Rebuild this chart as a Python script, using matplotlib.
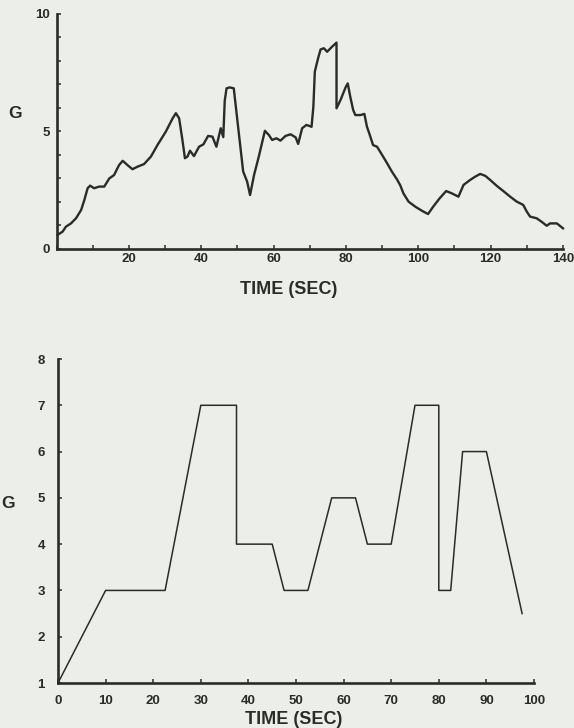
import matplotlib
matplotlib.use("Agg")
import matplotlib.pyplot as plt
import numpy as np

# top trace: G versus time (sec)
top_time = [0.3, 1.7, 2.6, 4.0, 5.4, 6.8, 7.7, 8.6, 9.3, 10.4, 11.8, 13.2, 14.6, 15.9,
            17.3, 18.3, 19.6, 21.0, 22.4, 24.2, 26.1, 27.9, 30.2, 32.1, 33.0, 33.9, 34.8,
            35.5, 36.2, 36.9, 38.0, 39.4, 40.6, 41.9, 43.1, 44.2, 45.4, 46.1, 46.5, 47.0,
            47.9, 49.0, 50.4, 51.6, 52.7, 53.5, 54.6, 55.9, 57.6, 58.7, 59.6, 60.8, 61.9,
            63.3, 64.7, 66.1, 66.8, 67.9, 69.1, 70.5, 71.0, 71.4, 72.3, 73.0, 73.9, 74.8,
            76.2, 77.4, 77.4, 78.5, 79.9, 80.5, 81.2, 82.0, 82.6, 84.0, 85.1, 85.8, 86.6,
            87.5, 88.6, 90.0, 91.4, 92.7, 94.1, 95.0, 95.9, 97.3, 99.2, 101.0, 102.7, 104.1,
            105.9, 107.7, 109.3, 111.1, 112.5, 114.3, 115.7, 117.1, 118.5, 119.9, 121.7,
            123.5, 125.4, 127.2, 129.0, 130.0, 130.9, 132.7, 134.1, 135.5, 136.4, 138.3,
            140.0]
top_g = [0.58, 0.72, 0.93, 1.07, 1.29, 1.64, 2.07, 2.57, 2.68, 2.57, 2.64, 2.64, 2.99, 3.13,
         3.56, 3.74, 3.56, 3.38, 3.49, 3.60, 3.92, 4.41, 4.98, 5.55, 5.77, 5.55, 4.63,
         3.85, 3.92, 4.17, 3.94, 4.34, 4.44, 4.80, 4.77, 4.34, 5.13, 4.75, 6.30, 6.83,
         6.87, 6.83, 4.91, 3.28, 2.85, 2.28, 3.13, 3.91, 5.02, 4.84, 4.63, 4.70, 4.60,
         4.80, 4.87, 4.74, 4.46, 5.13, 5.27, 5.19, 6.05, 7.54, 8.11, 8.49, 8.54, 8.39,
         8.61, 8.78, 5.98, 6.33, 6.87, 7.04, 6.47, 5.91, 5.69, 5.69, 5.74, 5.20, 4.84,
         4.41, 4.34, 3.99, 3.63, 3.28, 2.95, 2.70, 2.35, 2.00, 1.78, 1.61, 1.47, 1.78,
         2.14, 2.45, 2.35, 2.21, 2.71, 2.92, 3.06, 3.18, 3.10, 2.92, 2.67,
         2.45, 2.21, 2.00, 1.86, 1.57, 1.36, 1.29, 1.14, 0.97, 1.07, 1.07,
         0.86]

# bottom trace: piecewise G schedule
bot_time = [0, 10, 22.5, 30, 37.5, 37.5, 45, 47.5, 52.5, 57.5, 62.5, 65, 70, 75, 80, 80,
            82.5, 85, 90, 97.5]
bot_g = [1, 3, 3, 7, 7, 4, 4, 3, 3, 5, 5, 4, 4, 7, 7, 3, 3, 6, 6, 2.5]

top_xticks = np.arange(0, 141, 10)
top_xlabels = ["" if v % 20 or v == 0 else str(v) for v in top_xticks]
top_yticks = np.arange(0, 11, 1)
top_ylabels = [str(v) if v % 5 == 0 else "" for v in top_yticks]
bot_xticks = np.arange(0, 101, 10)
bot_yticks = np.arange(1, 9, 1)

paper = "#eceee9"
ink = "#2b2b2b"

plt.rcParams["font.family"] = ["Liberation Sans", "DejaVu Sans"]
plt.rcParams["font.weight"] = "bold"

W, H = 574, 728
fig = plt.figure(figsize=(W / 100, H / 100), dpi=100, facecolor=paper)


def px_box(x0, x1, y0, y1):
    """Axes rectangle from pixel corners (y measured from top)"""
    return [x0 / W, 1 - y1 / H, (x1 - x0) / W, (y1 - y0) / H]


def style_axes(ax, xpad, ypad):
    ax.set_facecolor(paper)
    for side in ("top", "right"):
        ax.spines[side].set_visible(False)
    for side in ("left", "bottom"):
        ax.spines[side].set_linewidth(1.9)
        ax.spines[side].set_color(ink)
    ax.tick_params(axis="both", direction="in", length=3.2, width=1.1, colors=ink,
                   labelsize=9.5)
    ax.tick_params(axis="x", pad=xpad)
    ax.tick_params(axis="y", pad=ypad)
    for lab in ax.get_xticklabels() + ax.get_yticklabels():
        lab.set_fontweight("bold")


# top chart
ax1 = fig.add_axes(px_box(56.5, 563, 14, 248.5))
ax1.plot(top_time, top_g, color=ink, lw=1.7, clip_on=False, solid_joinstyle="round")
ax1.set_xlim(0, 140)
ax1.set_ylim(0, 10)
ax1.set_xticks(top_xticks)
ax1.set_xticklabels(top_xlabels)
ax1.set_yticks(top_yticks)
ax1.set_yticklabels(top_ylabels)
style_axes(ax1, 3, 4.5)

# bottom chart
ax2 = fig.add_axes(px_box(58, 534, 359, 683))
ax2.plot(bot_time, bot_g, color=ink, lw=1.1, clip_on=False)
ax2.set_xlim(0, 100)
ax2.set_ylim(1, 8)
ax2.set_xticks(bot_xticks)
ax2.set_yticks(bot_yticks)
style_axes(ax2, 8.5, 9.5)

# axis titles placed as in the scan
fig.text(289 / W, 1 - 290 / H, "TIME (SEC)", ha="center", va="center",
         fontsize=13, fontweight="bold", color=ink)
fig.text(294 / W, 1 - 719 / H, "TIME (SEC)", ha="center", va="center",
         fontsize=13, fontweight="bold", color=ink)
fig.text(15 / W, 1 - 114 / H, "G", ha="center", va="center",
         fontsize=12.5, fontweight="bold", color=ink)
fig.text(1 / W, 1 - 503 / H, "G", ha="left", va="center",
         fontsize=12.5, fontweight="bold", color=ink)

fig.savefig("out.png", dpi=100, facecolor=paper)
